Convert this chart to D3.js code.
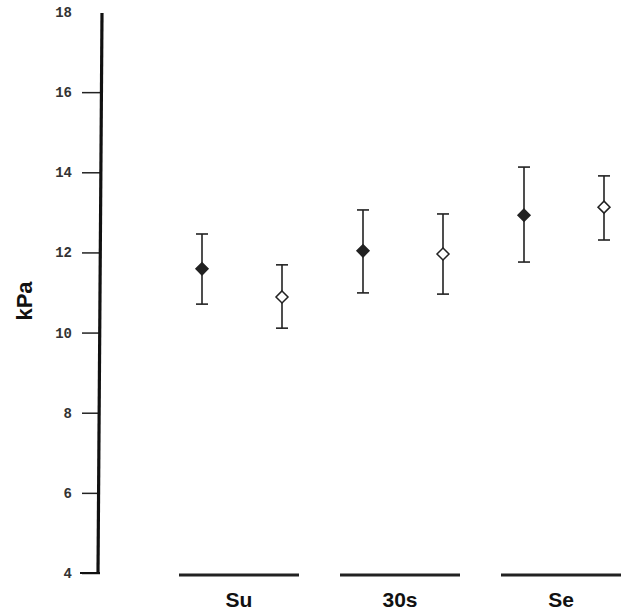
<!DOCTYPE html>
<html><head><meta charset="utf-8">
<script src="https://cdn.jsdelivr.net/npm/d3@7/dist/d3.min.js"></script>
<style>body{margin:0;background:#fff}svg{display:block}</style>
</head><body><svg id="c" width="621" height="615"></svg>
<script>
const groups = ["Su", "30s", "Se"];
const series = ["filled", "open"];
const means = {filled: [11.59, 12.04, 12.93], open: [10.89, 11.96, 13.13]};
const upper = {filled: [12.46, 13.06, 14.13], open: [11.69, 12.96, 13.91]};
const lower = {filled: [10.71, 10.99, 11.76], open: [10.11, 10.96, 12.31]};
const yTicks = [4, 6, 8, 10, 12, 14, 16, 18];
const yLabel = "kPa";

const svg = d3.select("#c");
const y = d3.scaleLinear().domain([4, 18]).range([573, 12]);
const x0 = d3.scaleBand().domain(groups).range([158.5, 641.5]).padding(0);
const x1 = d3.scalePoint().domain(series).range([-37, 43]);
const cx = (g, s) => x0(g) + x0.bandwidth() / 2 + x1(s);

// y axis
const axis = d3.axisLeft(y).tickValues(yTicks).tickSize(18).tickPadding(10);
const ag = svg.append("g").attr("transform", "translate(100,0)").call(axis);
ag.select(".domain").remove();
ag.selectAll(".tick line").attr("stroke", "#222").attr("stroke-width", 1.5);
ag.selectAll(".tick").filter(d => d === 18).select("line").remove();
ag.selectAll(".tick text").attr("font-family", "Liberation Mono, monospace")
  .attr("font-size", 14).attr("fill", "#333").attr("font-weight", "bold");
svg.append("line").attr("x1", 102).attr("x2", 98).attr("y1", y(18) + 1).attr("y2", y(4))
  .attr("stroke", "#111").attr("stroke-width", 3.2);
svg.append("line").attr("x1", 80).attr("x2", 100).attr("y1", y(4)).attr("y2", y(4))
  .attr("stroke", "#111").attr("stroke-width", 2);

svg.append("text").attr("transform", `translate(32,301) rotate(-90)`)
  .attr("text-anchor", "middle").attr("font-family", "Liberation Sans, Arial, sans-serif")
  .attr("font-weight", "bold").attr("font-size", 22).attr("fill", "#111").text(yLabel);

// group bars and labels
groups.forEach(g => {
  const c = x0(g) + x0.bandwidth() / 2;
  svg.append("line").attr("x1", c - 60).attr("x2", c + 60).attr("y1", 575).attr("y2", 575)
    .attr("stroke", "#222").attr("stroke-width", 3);
  svg.append("text").attr("x", c).attr("y", 607).attr("text-anchor", "middle")
    .attr("font-family", "Liberation Sans, Arial, sans-serif").attr("font-weight", "bold")
    .attr("font-size", 21).attr("fill", "#111").text(g);
});

// error bars and diamonds
series.forEach(s => {
  groups.forEach((g, i) => {
    const xx = cx(g, s);
    const gg = svg.append("g").attr("stroke", "#222").attr("stroke-width", 1.6);
    gg.append("line").attr("x1", xx).attr("x2", xx).attr("y1", y(upper[s][i])).attr("y2", y(lower[s][i]));
    [upper[s][i], lower[s][i]].forEach(v => {
      gg.append("line").attr("x1", xx - 6).attr("x2", xx + 6).attr("y1", y(v)).attr("y2", y(v));
    });
    const r = 6;
    const yy = y(means[s][i]);
    svg.append("path")
      .attr("d", `M${xx},${yy - r}L${xx + r},${yy}L${xx},${yy + r}L${xx - r},${yy}Z`)
      .attr("fill", s === "filled" ? "#222" : "#fff").attr("stroke", "#222").attr("stroke-width", 1.5);
  });
});
</script></body></html>
